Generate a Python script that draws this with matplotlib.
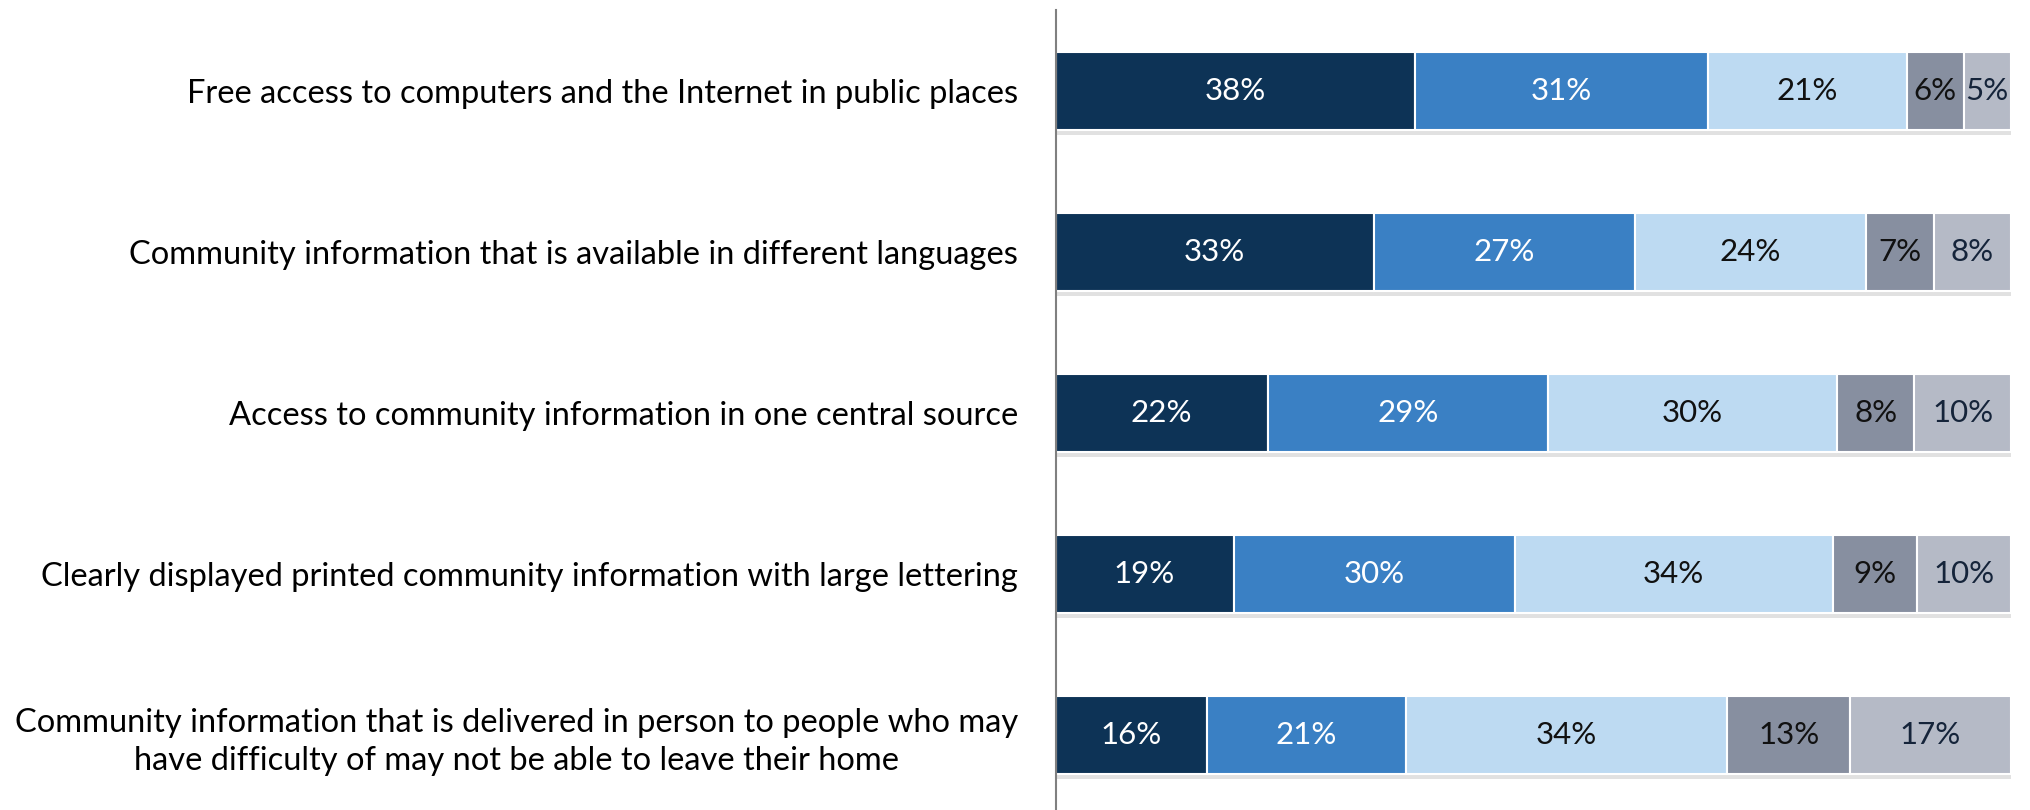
import numpy as np
import matplotlib.pyplot as plt
import matplotlib.patheffects as pe

plt.rcParams['font.family'] = ['Lato', 'DejaVu Sans']

items = ['Free access to computers and the Internet in public places',
         'Community information that is available in different languages',
         'Access to community information in one central source',
         'Clearly displayed printed community information with large lettering',
         'Community information that is delivered in person to people who may\nhave difficulty of may not be able to leave their home']
very = [38, 33, 22, 19, 16]
quite = [31, 27, 29, 30, 21]
somewhat = [21, 24, 30, 34, 34]
not_very = [6, 7, 8, 9, 13]
not_at_all = [5, 8, 10, 10, 17]

series = [very, quite, somewhat, not_very, not_at_all]
colors = ['#0d3356', '#3a80c4', '#bddaf2', '#878fa0', '#b5bac6']
text_colors = ['white', 'white', '#111111', '#111111', '#15243a']

data = np.array(series, dtype=float)
totals = data.sum(axis=0)
shares = data / totals

fig = plt.figure(figsize=(20.3, 8.1), dpi=100)
ax = fig.add_axes([0.520, 0.0, 0.4706, 0.9877])

y = np.arange(len(items))
left = np.zeros(len(items))
shadow = [pe.SimplePatchShadow(offset=(0, -3), shadow_rgbFace='#888888', alpha=0.25), pe.Normal()]
for k in range(len(series)):
    bars = ax.barh(y, shares[k], left=left, height=0.49, color=colors[k],
                   edgecolor='white', linewidth=1.5, path_effects=shadow)
    for i in range(len(items)):
        ax.text(left[i] + shares[k][i] / 2, y[i], '%d%%' % series[k][i],
                ha='center', va='center', fontsize=22.5, color=text_colors[k])
    left += shares[k]

ax.set_xlim(0, 1)
ax.set_ylim(4.466, -0.503)
ax.set_yticks(y)
ax.set_yticklabels(items, fontsize=23.5, ha='right', multialignment='center',
                   linespacing=1.35)
ax.tick_params(axis='y', length=0, pad=27)
ax.set_xticks([])
for s in ['top', 'right', 'bottom']:
    ax.spines[s].set_visible(False)
ax.spines['left'].set_color('#808080')
ax.spines['left'].set_linewidth(1.5)

fig.savefig('out.png', dpi=100)
